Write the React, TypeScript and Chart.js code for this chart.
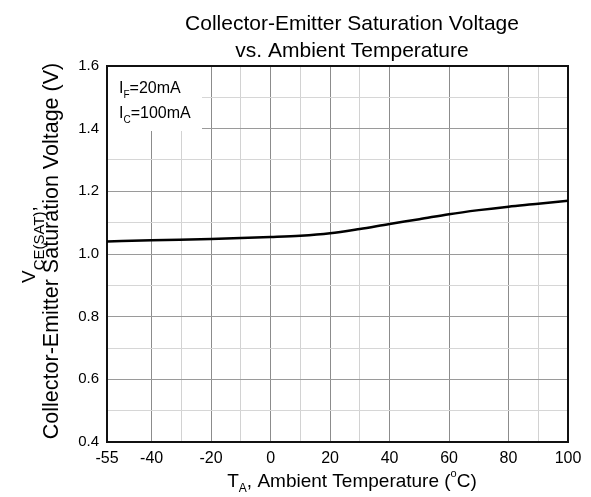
import { useEffect, useRef } from 'react';
import { Chart, registerables } from 'chart.js';

Chart.register(...registerables);

const temperatures = [-55, -40, -20, 0, 10, 20, 30, 40, 50, 60, 70, 80, 90, 100];
const vceSat = [1.04, 1.044, 1.048, 1.054, 1.058, 1.066, 1.08, 1.096, 1.111, 1.127, 1.14, 1.151, 1.16, 1.17];
const xTickValues = [-55, -40, -30, -20, -10, 0, 10, 20, 30, 40, 60, 80, 90, 100];
const xTickLabels = ['-55', '-40', '', '-20', '', '0', '', '20', '', '40', '60', '80', '', '100'];
const yTickLabels = ['0.4', '0.6', '0.8', '1.0', '1.2', '1.4', '1.6'];
const titleLines = ['Collector-Emitter Saturation Voltage', 'vs. Ambient Temperature'];

const FONT = '"Liberation Sans", Arial, Helvetica, sans-serif';

type Run = { t: string; s: number; dy: number };

function drawRuns(ctx: CanvasRenderingContext2D, runs: Run[], x: number, y: number, align: 'left' | 'center') {
  let total = 0;
  const widths = runs.map((r) => {
    ctx.font = `${r.s}px ${FONT}`;
    const w = ctx.measureText(r.t).width;
    total += w;
    return w;
  });
  let cx = align === 'center' ? x - total / 2 : x;
  ctx.textAlign = 'left';
  ctx.textBaseline = 'alphabetic';
  runs.forEach((r, i) => {
    ctx.font = `${r.s}px ${FONT}`;
    ctx.fillText(r.t, cx, y + r.dy);
    cx += widths[i];
  });
}

const framePlugin = {
  id: 'framePlugin',
  beforeDatasetsDraw(chart: any) {
    const { ctx, chartArea } = chart;
    const { left, top, right, bottom } = chartArea;
    ctx.save();
    // white box behind condition text
    ctx.fillStyle = '#fff';
    ctx.fillRect(left + 1, top + 1, 94, 64);
    // frame
    ctx.strokeStyle = '#111';
    ctx.lineWidth = 2;
    ctx.strokeRect(left, top, right - left, bottom - top);
    ctx.restore();
  },
  afterDraw(chart: any) {
    const { ctx, chartArea } = chart;
    const { left } = chartArea;
    ctx.save();
    ctx.fillStyle = '#000';
    // title
    ctx.textAlign = 'center';
    ctx.textBaseline = 'alphabetic';
    ctx.font = `21px ${FONT}`;
    ctx.fillText(titleLines[0], 352, 30);
    ctx.fillText(titleLines[1], 352, 57);

    // conditions
    drawRuns(ctx, [{ t: 'I', s: 16, dy: 0 }, { t: 'F', s: 10, dy: 5 }, { t: '=20mA', s: 16, dy: 0 }], left + 12, 93, 'left');
    drawRuns(ctx, [{ t: 'I', s: 16, dy: 0 }, { t: 'C', s: 10, dy: 5 }, { t: '=100mA', s: 16, dy: 0 }], left + 12, 118, 'left');

    // x title
    drawRuns(
      ctx,
      [
        { t: 'T', s: 19, dy: 0 },
        { t: 'A', s: 12, dy: 5 },
        { t: ', Ambient Temperature (', s: 19, dy: 0 },
        { t: 'o', s: 11, dy: -10 },
        { t: 'C)', s: 19, dy: 0 },
      ],
      352,
      487,
      'center'
    );

    // y title line 2
    ctx.save();
    ctx.translate(58, 251);
    ctx.rotate(-Math.PI / 2);
    drawRuns(ctx, [{ t: 'Collector-Emitter Saturation Voltage (V)', s: 21.5, dy: 0 }], 0, 0, 'center');
    ctx.restore();

    // y title line 1
    ctx.save();
    ctx.translate(35, 283);
    ctx.rotate(-Math.PI / 2);
    drawRuns(
      ctx,
      [
        { t: 'V', s: 19, dy: 0 },
        { t: 'CE(SAT)', s: 15, dy: 9 },
        { t: ',', s: 19, dy: 0 },
      ],
      0,
      0,
      'left'
    );
    ctx.restore();
    ctx.restore();
  },
};

export default function App() {
  const canvasRef = useRef<HTMLCanvasElement | null>(null);

  useEffect(() => {
    document.body.style.margin = '0';
    const canvas = canvasRef.current;
    if (!canvas) return;
    const chart = new Chart(canvas, {
      type: 'line',
      data: {
        datasets: [
          {
            data: temperatures.map((t, i) => ({ x: t, y: vceSat[i] })),
            borderColor: '#000',
            borderWidth: 2.5,
            pointRadius: 0,
            cubicInterpolationMode: 'monotone',
            fill: false,
          },
        ],
      },
      options: {
        responsive: false,
        animation: false,
        devicePixelRatio: 1,
        layout: { padding: { top: 66, right: 23, left: 0, bottom: 0 } },
        plugins: { legend: { display: false }, tooltip: { enabled: false }, title: { display: false } },
        scales: {
          x: {
            type: 'linear',
            min: -55,
            max: 100,
            afterBuildTicks: (scale: any) => {
              scale.ticks = xTickValues.map((value) => ({ value }));
            },
            afterFit: (scale: any) => {
              scale.height = 55;
            },
            border: { display: false },
            grid: {
              drawTicks: false,
              lineWidth: 1,
              color: (c: any) => {
                const v = c.tick ? c.tick.value : 0;
                if (v === -55 || v === 100) return 'rgba(0,0,0,0)';
                return v % 20 === 0 ? '#8c8c8c' : '#d2d2d2';
              },
            },
            ticks: {
              autoSkip: false,
              maxRotation: 0,
              padding: 7,
              color: '#000',
              font: { family: FONT, size: 16 },
              callback: (_v: any, i: number) => xTickLabels[i],
            },
          },
          y: {
            type: 'linear',
            min: 0.4,
            max: 1.6,
            afterFit: (scale: any) => {
              scale.width = 107;
            },
            border: { display: false },
            grid: {
              drawTicks: false,
              lineWidth: 1,
              color: (c: any) => {
                const i = c.index;
                if (i === 0 || i === 12) return 'rgba(0,0,0,0)';
                return i % 2 === 0 ? '#9a9a9a' : '#d6d6d6';
              },
            },
            ticks: {
              stepSize: 0.1,
              autoSkip: false,
              padding: 8,
              color: '#000',
              font: { family: FONT, size: 15 },
              callback: (_v: any, i: number) => (i % 2 === 0 ? yTickLabels[i / 2] : ''),
            },
          },
        },
      },
      plugins: [framePlugin],
    });
    return () => chart.destroy();
  }, []);

  return (
    <div style={{ width: 591, height: 497, background: '#fff' }}>
      <canvas ref={canvasRef} width={591} height={497} style={{ display: 'block' }} />
    </div>
  );
}
